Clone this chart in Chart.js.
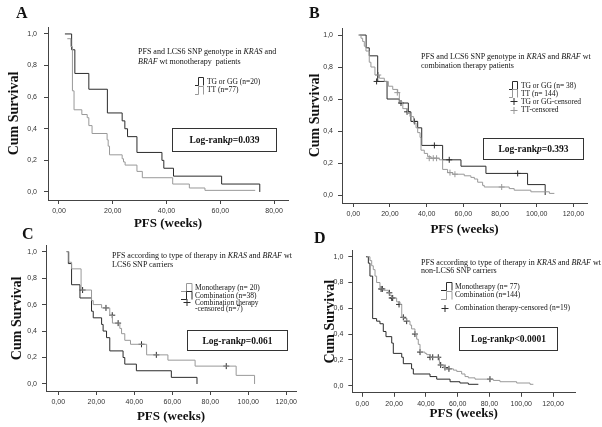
<!DOCTYPE html>
<html>
<head>
<meta charset="utf-8">
<script src="https://cdn.jsdelivr.net/npm/chart.js@4/dist/chart.umd.min.js"></script>
<style>
  html, body { margin: 0; padding: 0; background: #fff; }
  body {
    width: 602px; height: 427px; position: relative; overflow: hidden;
    font-family: "Liberation Serif", "Times New Roman", serif; color: #111;
  }
  .panel { position: absolute; }
  .letter { position: absolute; font-weight: bold; font-size: 16px; line-height: 1; }
  .note { position: absolute; white-space: nowrap; font-size: 8px; }
  .leg { position: absolute; white-space: nowrap; font-size: 7.5px; line-height: 1; display: flex; align-items: center; }
  .leg svg { margin-right: 2px; }
  .box {
    position: absolute; border: 1px solid #333; box-sizing: border-box;
    display: flex; align-items: center; justify-content: center;
    font-weight: bold; font-size: 9.5px;
  }
</style>
</head>
<body>

<div class="panel" id="wrap-a" style="left:0;top:0;width:301px;height:240px"><canvas id="km-a"></canvas></div>
<div class="panel" id="wrap-b" style="left:301px;top:0;width:301px;height:240px"><canvas id="km-b"></canvas></div>
<div class="panel" id="wrap-c" style="left:0;top:236px;width:301px;height:191px"><canvas id="km-c"></canvas></div>
<div class="panel" id="wrap-d" style="left:301px;top:236px;width:301px;height:191px"><canvas id="km-d"></canvas></div>

<!-- panel A -->
<div class="letter" style="left:16px;top:5px">A</div>
<div class="note" style="left:138px;top:47px;line-height:10px">
  PFS and LCS6 SNP genotype in <i>KRAS</i> and<br><i>BRAF</i> wt monotherapy&nbsp; patients
</div>
<div class="leg" style="left:195px;top:77px"><svg width="10" height="9"><path d="M0 8.5H3.5V0.5H8.5V8.5" fill="none" stroke="#2b2b2b"/></svg>TG or GG (n=20)</div>
<div class="leg" style="left:195px;top:85.5px"><svg width="10" height="9"><path d="M0 8.5H3.5V0.5H8.5V8.5" fill="none" stroke="#999"/></svg>TT (n=77)</div>
<div class="box" style="left:172px;top:128px;width:105px;height:24px">Log-rank<i>p</i>=0.039</div>

<!-- panel B -->
<div class="letter" style="left:309px;top:5px">B</div>
<div class="note" style="left:421px;top:52px;line-height:9px">
  PFS and LCS6 SNP genotype in <i>KRAS</i> and <i>BRAF</i> wt<br>combination therapy patients
</div>
<div class="leg" style="left:509px;top:81px"><svg width="10" height="9"><path d="M0 8.5H3.5V0.5H8.5V8.5" fill="none" stroke="#2b2b2b"/></svg>TG or GG (n= 38)</div>
<div class="leg" style="left:509px;top:89px"><svg width="10" height="9"><path d="M0 8.5H3.5V0.5H8.5V8.5" fill="none" stroke="#999"/></svg>TT (n= 144)</div>
<div class="leg" style="left:509px;top:97px"><svg width="10" height="9"><path d="M5 1V8M1.5 4.5H8.5" fill="none" stroke="#2b2b2b"/></svg>TG or GG-censored</div>
<div class="leg" style="left:509px;top:105.5px"><svg width="10" height="9"><path d="M5 1V8M1.5 4.5H8.5" fill="none" stroke="#999"/></svg>TT-censored</div>
<div class="box" style="left:483px;top:138px;width:101px;height:22px">Log-rank<i>p</i>=0.393</div>

<!-- panel C -->
<div class="letter" style="left:22px;top:226px">C</div>
<div class="note" style="left:112px;top:252px;line-height:8.5px">
  PFS according to type of therapy in <i>KRAS</i> and <i>BRAF</i> wt<br>LCS6 SNP carriers
</div>
<div class="leg" style="left:181px;top:283px"><svg width="12" height="9"><path d="M0 8.5H5.5V0.5H11V8.5" fill="none" stroke="#999"/></svg>Monotherapy (n= 20)</div>
<div class="leg" style="left:181px;top:291px"><svg width="12" height="9"><path d="M0 8.5H5.5V0.5H11V8.5" fill="none" stroke="#2b2b2b"/></svg>Combination (n=38)</div>
<div class="leg" style="left:181px;top:298px"><svg width="12" height="9"><path d="M6 1V8M2.5 4.5H9.5" fill="none" stroke="#2b2b2b"/></svg>Combination therapy</div>
<div class="leg" style="left:195px;top:305px">-censored (n=7)</div>
<div class="box" style="left:187px;top:330px;width:101px;height:21px">Log-rank<i>p</i>=0.061</div>

<!-- panel D -->
<div class="letter" style="left:314px;top:230px">D</div>
<div class="note" style="left:421px;top:259px;line-height:8px">
  PFS according to type of therapy in <i>KRAS</i> and <i>BRAF</i> wt<br>non-LCS6 SNP carriers
</div>
<div class="leg" style="left:441px;top:282px"><svg width="12" height="9"><path d="M0 8.5H5.5V0.5H11V8.5" fill="none" stroke="#2b2b2b"/></svg>Monotherapy (n= 77)</div>
<div class="leg" style="left:441px;top:290.5px"><svg width="12" height="9"><path d="M0 8.5H5.5V0.5H11V8.5" fill="none" stroke="#999"/></svg>Combination (n=144)</div>
<div class="leg" style="left:441px;top:303.5px"><svg width="12" height="9"><path d="M4 1V8M0.5 4.5H7.5" fill="none" stroke="#2b2b2b"/></svg>Combination therapy-censored (n=19)</div>
<div class="box" style="left:459px;top:327px;width:99px;height:24px">Log-rank<i>p</i>&lt;0.0001</div>

<script>
// ---- datos (tiempo en semanas, supervivencia acumulada)

const yTicks = [0, 0.2, 0.4, 0.6, 0.8, 1.0];
const xTicksA = [0, 20, 40, 60, 80];
const xTicksWide = [0, 20, 40, 60, 80, 100, 120];

// A: monoterapia, TG/GG vs TT
const aTgTime = [2.2, 4.7, 5.9, 11.1, 18.0, 23.5, 24.5, 25.5, 29.0, 38.3, 39.0, 42.6, 60.5, 74.7];
const aTgSurv = [1.0, 0.9, 0.75, 0.65, 0.5, 0.45, 0.4, 0.35, 0.25, 0.2, 0.15, 0.1, 0.05, 0];
const aTtTime = [3.1, 4.4, 5.0, 5.6, 8.5, 10.5, 11.1, 12.3, 17.9, 18.3, 18.8, 23.5, 24.0, 24.6, 29.0, 31.0, 42.3, 48.5, 54.3, 73.0];
const aTtSurv = [0.97, 0.92, 0.64, 0.52, 0.49, 0.47, 0.42, 0.37, 0.33, 0.29, 0.235, 0.21, 0.19, 0.17, 0.13, 0.09, 0.05, 0.025, 0.01, 0.01];

// B: combinación, TG/GG vs TT
const bTgTime = [3.3, 7.0, 8.7, 13.3, 18.4, 25.1, 30.0, 31.4, 35.1, 37.3, 48.7, 58.7, 72.3, 95.0, 104.6];
const bTgSurv = [1.0, 0.92, 0.87, 0.71, 0.6, 0.575, 0.52, 0.46, 0.42, 0.31, 0.22, 0.18, 0.135, 0.065, 0];
const bTgCensTime = [12.7, 26.0, 29.3, 33.3, 44.2, 52.3, 89.6];
const bTgCensSurv = [0.71, 0.575, 0.52, 0.46, 0.31, 0.22, 0.135];
const bTtTime = [2.7, 4.2, 5.1, 6.0, 6.9, 8.7, 9.6, 11.8, 14.2, 16.9, 19.1, 21.5, 24.2, 25.1, 27.0, 29.6, 30.9, 32.9, 34.2, 35.1, 36.4, 36.9, 38.7, 40.5, 42.4, 46.9, 48.7, 51.4, 54.2, 60.5, 64.1, 66.0, 67.8, 70.5, 71.4, 85.0, 87.7, 96.8, 106.9, 109.6];
const bTtSurv = [1.0, 0.98, 0.96, 0.93, 0.9, 0.83, 0.8, 0.75, 0.73, 0.71, 0.68, 0.66, 0.64, 0.58, 0.54, 0.51, 0.49, 0.45, 0.42, 0.39, 0.36, 0.28, 0.26, 0.24, 0.23, 0.22, 0.16, 0.14, 0.13, 0.12, 0.11, 0.1, 0.08, 0.06, 0.05, 0.04, 0.03, 0.02, 0.01, 0.01];
const bTtCensTime = [13.6, 24.0, 41.4, 43.6, 45.4, 52.7, 55.4, 80.9];
const bTtCensSurv = [0.75, 0.64, 0.23, 0.23, 0.23, 0.14, 0.13, 0.05];

// C: portadores LCS6, monoterapia vs combinación
const cMonoTime = [4.4, 5.6, 7.0, 12.0, 17.5, 18.4, 22.8, 27.1, 28.5, 32.4, 33.3, 35.0, 38.0, 46.5, 57.7, 72.0, 93.6, 103.3];
const cMonoSurv = [1.0, 0.92, 0.87, 0.71, 0.63, 0.6, 0.575, 0.52, 0.46, 0.42, 0.38, 0.33, 0.3, 0.22, 0.18, 0.135, 0.065, 0];
const cCombTime = [4.4, 5.3, 7.0, 11.4, 17.5, 18.4, 22.8, 23.6, 25.4, 27.1, 34.1, 35.0, 41.1, 59.5, 73.0];
const cCombSurv = [1.0, 0.91, 0.75, 0.65, 0.55, 0.5, 0.45, 0.4, 0.35, 0.25, 0.2, 0.15, 0.1, 0.05, 0];
const cCensTime = [12.8, 25.1, 28.4, 31.5, 43.8, 51.6, 88.4];
const cCensSurv = [0.71, 0.575, 0.52, 0.46, 0.3, 0.22, 0.135];

// D: no portadores LCS6, monoterapia vs combinación
const dMonoTime = [2.3, 3.8, 4.8, 6.5, 9.0, 11.1, 13.2, 14.9, 18.5, 19.5, 24.8, 25.8, 31.0, 32.1, 42.6, 46.8, 55.2, 61.4, 66.7, 73.0];
const dMonoSurv = [1.0, 0.95, 0.85, 0.52, 0.5, 0.48, 0.42, 0.38, 0.33, 0.25, 0.22, 0.17, 0.13, 0.09, 0.07, 0.05, 0.03, 0.02, 0.01, 0.01];
const dCombTime = [2.8, 4.8, 5.9, 6.9, 8.0, 9.0, 11.1, 13.2, 16.4, 17.4, 18.5, 21.6, 23.7, 24.8, 26.2, 27.9, 30.0, 31.0, 33.1, 34.2, 35.2, 36.3, 39.4, 40.5, 42.6, 48.5, 50.9, 52.6, 57.3, 59.4, 62.5, 64.6, 66.7, 70.9, 82.4, 86.6, 97.1, 105.5, 107.6];
const dCombSurv = [1.0, 0.97, 0.93, 0.9, 0.85, 0.8, 0.75, 0.74, 0.72, 0.7, 0.68, 0.65, 0.63, 0.53, 0.52, 0.5, 0.47, 0.44, 0.4, 0.36, 0.32, 0.26, 0.25, 0.24, 0.22, 0.16, 0.14, 0.13, 0.12, 0.11, 0.09, 0.07, 0.06, 0.05, 0.04, 0.03, 0.02, 0.01, 0.01];
const dCensTime = [11.8, 12.6, 17.0, 18.5, 19.1, 23.1, 25.8, 27.9, 33.1, 36.3, 42.6, 44.3, 47.8, 49.3, 52.0, 54.5, 80.3];
const dCensSurv = [0.75, 0.75, 0.72, 0.68, 0.68, 0.63, 0.53, 0.5, 0.4, 0.26, 0.22, 0.22, 0.22, 0.16, 0.14, 0.13, 0.05];

// ---- estilos

const DARK = "#2b2b2b";
const LIGHT = "#999999";
const AXIS = "#444444";
const SERIF = "'Liberation Serif', 'Times New Roman', serif";
const SANS = "'Liberation Sans', Arial, sans-serif";

const toPoints = (times, surv) => times.map((t, i) => ({ x: t, y: surv[i] }));

function kmLine(times, surv, color) {
  return {
    data: toPoints(times, surv),
    stepped: "before",
    borderColor: color,
    borderWidth: 1,
    pointRadius: 0,
    fill: false,
  };
}

function censored(times, surv, color) {
  return {
    type: "scatter",
    data: toPoints(times, surv),
    pointStyle: "cross",
    pointRadius: 3,
    borderColor: color,
    borderWidth: 1,
    showLine: false,
  };
}

function drawPanel(id, p) {
  return new Chart(document.getElementById(id), {
    type: "line",
    data: { datasets: p.datasets },
    options: {
      responsive: true,
      maintainAspectRatio: false,
      animation: false,
      layout: { padding: p.padding },
      plugins: { legend: { display: false }, tooltip: { enabled: false } },
      scales: {
        x: {
          type: "linear",
          min: p.xMin,
          max: p.xMax,
          afterBuildTicks: (s) => { s.ticks = p.xTicks.map((v) => ({ value: v })); },
          afterFit: (s) => { s.height = p.xHeight; },
          grid: { drawOnChartArea: false, drawTicks: true, tickLength: 4, color: AXIS },
          border: { color: AXIS },
          ticks: {
            autoSkip: false, maxRotation: 0, padding: 3, color: "#333",
            font: { family: SANS, size: 7 },
            callback: (v) => Number(v).toFixed(2).replace(".", ","),
          },
          title: {
            display: true, text: "PFS (weeks)", color: "#111", padding: 0,
            font: { family: SERIF, size: 13, weight: "bold" },
          },
        },
        y: {
          min: p.yMin,
          max: p.yMax,
          afterBuildTicks: (s) => { s.ticks = yTicks.map((v) => ({ value: v })); },
          afterFit: (s) => { s.width = p.yWidth; },
          grid: { drawOnChartArea: false, drawTicks: true, tickLength: 4, color: AXIS },
          border: { color: AXIS },
          ticks: {
            autoSkip: false, padding: p.yPad, color: "#333",
            font: { family: SANS, size: 7 },
            callback: (v) => Number(v).toFixed(1).replace(".", ","),
          },
          title: {
            display: true, text: "Cum Survival", color: "#111", padding: 0,
            font: { family: SERIF, size: 14, weight: "bold" },
          },
        },
      },
    },
  });
}

drawPanel("km-a", {
  datasets: [kmLine(aTtTime, aTtSurv, LIGHT), kmLine(aTgTime, aTgSurv, DARK)],
  xTicks: xTicksA, xMin: -4.09, xMax: 85.2, yMin: -0.051, yMax: 1.044,
  padding: { left: 6, top: 27, right: 13, bottom: 9 },
  yWidth: 42, yPad: 7, xHeight: 31,
});

drawPanel("km-b", {
  datasets: [
    kmLine(bTtTime, bTtSurv, LIGHT), kmLine(bTgTime, bTgSurv, DARK),
    censored(bTtCensTime, bTtCensSurv, LIGHT), censored(bTgCensTime, bTgCensSurv, DARK),
  ],
  xTicks: xTicksWide, xMin: -6.16, xMax: 127.4, yMin: -0.05, yMax: 1.044,
  padding: { left: 6, top: 28, right: 15, bottom: 3 },
  yWidth: 35, yPad: 5, xHeight: 34,
});

drawPanel("km-c", {
  datasets: [
    kmLine(cMonoTime, cMonoSurv, LIGHT), kmLine(cCombTime, cCombSurv, DARK),
    censored(cCensTime, cCensSurv, DARK),
  ],
  xTicks: xTicksWide, xMin: -6.46, xMax: 125.1, yMin: -0.053, yMax: 1.045,
  padding: { left: 9, top: 9.7, right: 4.3, bottom: 2.5 },
  yWidth: 37, yPad: 5, xHeight: 33.5,
});

drawPanel("km-d", {
  datasets: [
    kmLine(dCombTime, dCombSurv, LIGHT), kmLine(dMonoTime, dMonoSurv, DARK),
    censored(dCensTime, dCensSurv, DARK),
  ],
  xTicks: xTicksWide, xMin: -6.3, xMax: 133.8, yMin: -0.056, yMax: 1.047,
  padding: { left: 20.6, top: 14.7, right: 27, bottom: 5.2 },
  yWidth: 30.7, yPad: 5, xHeight: 29,
});
</script>
</body>
</html>
